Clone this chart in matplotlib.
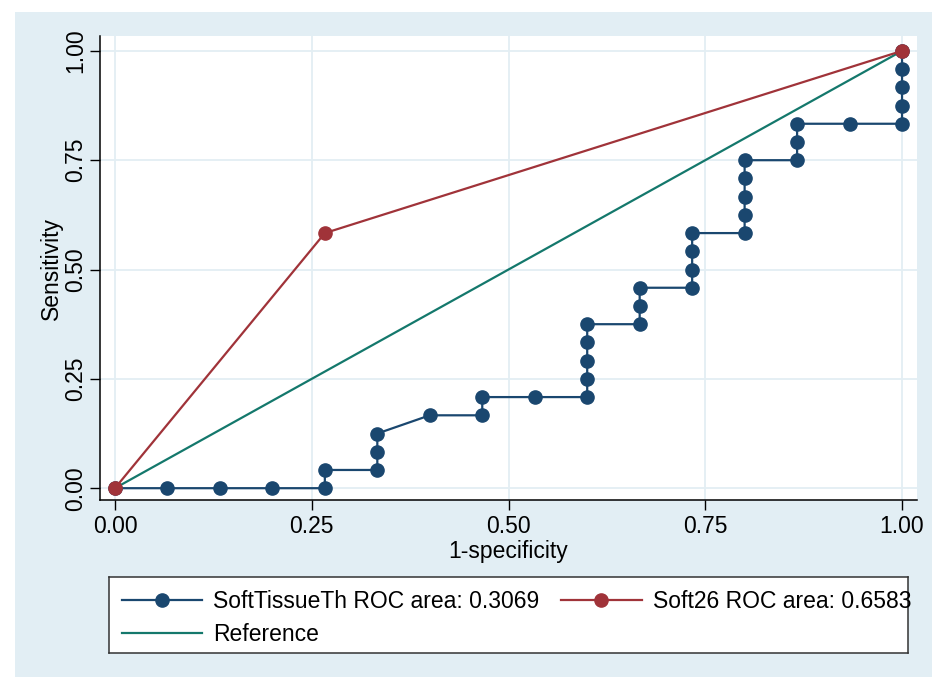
import matplotlib
matplotlib.use("Agg")
import matplotlib.pyplot as plt
from matplotlib.patches import Rectangle

plt.rcParams['font.family'] = ['Liberation Sans', 'DejaVu Sans']

# SoftTissueTh ROC points (1-specificity, sensitivity)
soft_x = [0, 1/15, 2/15, 3/15, 4/15, 4/15, 5/15, 5/15, 5/15, 6/15, 7/15, 7/15, 8/15,
          9/15, 9/15, 9/15, 9/15, 9/15, 10/15, 10/15, 10/15, 11/15, 11/15, 11/15, 11/15,
          12/15, 12/15, 12/15, 12/15, 12/15, 13/15, 13/15, 13/15, 14/15, 1, 1, 1, 1, 1]
soft_y = [0, 0, 0, 0, 0, 1/24, 1/24, 2/24, 3/24, 4/24, 4/24, 5/24, 5/24,
          5/24, 6/24, 7/24, 8/24, 9/24, 9/24, 10/24, 11/24, 11/24, 12/24, 13/24, 14/24,
          14/24, 15/24, 16/24, 17/24, 18/24, 18/24, 19/24, 20/24, 20/24, 20/24, 21/24, 22/24, 23/24, 1]
# Soft26 ROC points
s26_x = [0, 4/15, 1]
s26_y = [0, 14/24, 1]
# Reference line
ref_x = [0, 1]
ref_y = [0, 1]

labels = ["SoftTissueTh ROC area: 0.3069", "Soft26 ROC area: 0.6583", "Reference"]
ticks = [0, 0.25, 0.5, 0.75, 1.0]
tick_labels = ["0.00", "0.25", "0.50", "0.75", "1.00"]

navy = "#1a476f"
maroon = "#a03339"
teal = "#14786c"
bg = "#e2eef4"
gridc = "#e3eef3"
fs = 16.5

fig = plt.figure(figsize=(9.32, 6.77), dpi=100)
fig.patch.set_facecolor("white")
fig.add_artist(Rectangle((15/932, 0), 1 - 15/932, 1 - 12/677, transform=fig.transFigure,
                         facecolor=bg, edgecolor="none", zorder=-10))

ax = fig.add_axes([100/932, 1 - 500/677, (917 - 100)/932, (500 - 36)/677])
ax.set_facecolor("white")

l_ref, = ax.plot(ref_x, ref_y, color=teal, lw=1.6, zorder=2)
l_soft, = ax.plot(soft_x, soft_y, color=navy, lw=1.6, marker='o', ms=9.5, zorder=3)
l_26, = ax.plot(s26_x, s26_y, color=maroon, lw=1.6, marker='o', ms=9.5, zorder=4)

ax.set_xlim(-0.019, 1.019)
ax.set_ylim(-0.027, 1.034)
ax.set_xticks(ticks)
ax.set_xticklabels(tick_labels)
ax.set_yticks(ticks)
ax.set_yticklabels(tick_labels, rotation=90, va='center')
ax.tick_params(axis='both', labelsize=fs, length=7, width=1, direction='out', color='black')
ax.tick_params(axis='x', pad=4)
ax.tick_params(axis='y', pad=2)
ax.grid(True, color=gridc, lw=1.3)
ax.set_axisbelow(True)
for s in ['top', 'right']:
    ax.spines[s].set_visible(False)
for s in ['left', 'bottom']:
    ax.spines[s].set_color('black')
    ax.spines[s].set_linewidth(1.1)
ax.set_xlabel("1-specificity", fontsize=fs, labelpad=1)
ax.set_ylabel("Sensitivity", fontsize=fs)
ax.yaxis.set_label_coords(-0.045, 0.5)

# legend box
lax = fig.add_axes([109/932, 1 - 653/677, (908 - 109)/932, 76/677])
lax.set_facecolor("white")
lax.set_xticks([])
lax.set_yticks([])
for s in lax.spines.values():
    s.set_color('#333333')
    s.set_linewidth(1.1)
leg = lax.legend([l_soft, l_ref, l_26], [labels[0], labels[2], labels[1]], ncol=2,
                 loc='upper left', bbox_to_anchor=(0, 1), frameon=False,
                 fontsize=fs, handlelength=3.5, handletextpad=0.5,
                 labelspacing=0.45, borderaxespad=0, borderpad=0.55, columnspacing=0.95)

fig.savefig("out.png", dpi=100, facecolor=fig.get_facecolor())
